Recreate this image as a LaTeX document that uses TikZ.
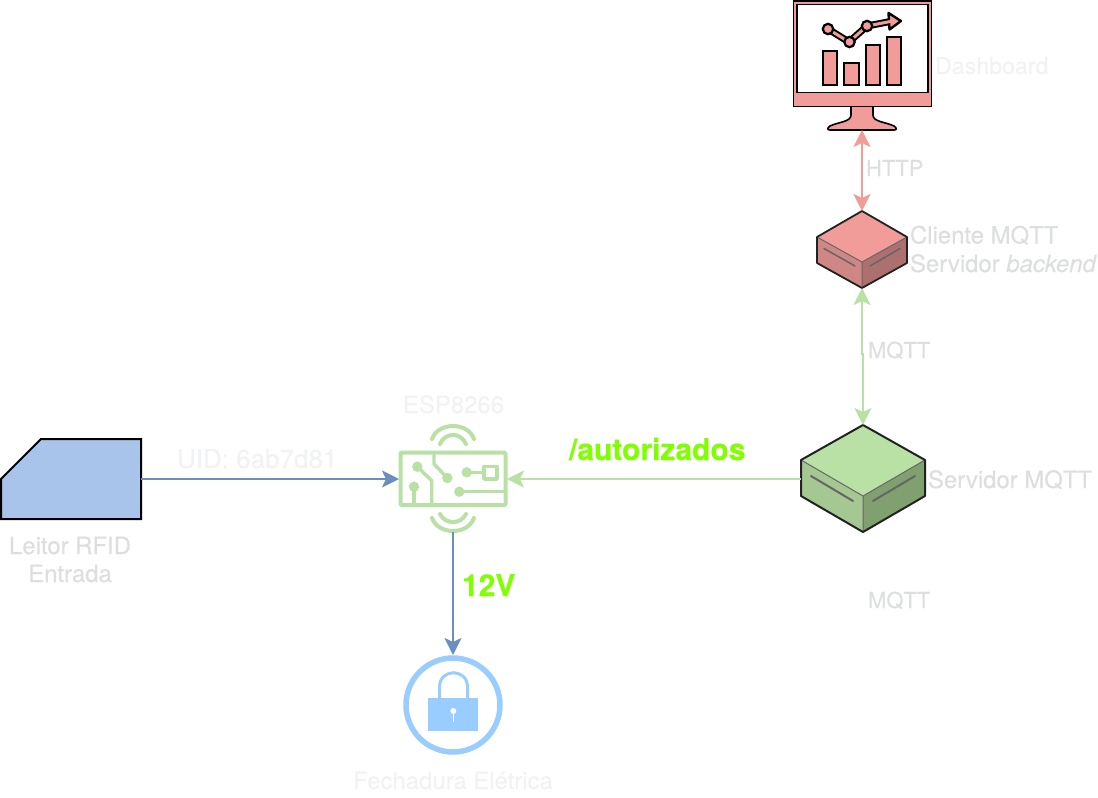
\documentclass[tikz,border=0pt]{standalone}
\usepackage{fontspec}
\setmainfont{TeX Gyre Heros}[FakeBold=0.25]
\usetikzlibrary{arrows.meta}
\definecolor{pinkf}{HTML}{F19C99}
\definecolor{pinkl}{HTML}{CE8785}
\definecolor{pinkr}{HTML}{AC706E}
\definecolor{greenf}{HTML}{B9E0A5}
\definecolor{greenl}{HTML}{A5C892}
\definecolor{greenr}{HTML}{80A06F}
\definecolor{bluef}{HTML}{A9C4EB}
\definecolor{bluel}{HTML}{6C8EBF}
\definecolor{lockc}{HTML}{99CCFF}
\definecolor{lime}{HTML}{80FF00}
\definecolor{greytxt}{HTML}{DDDFDF}
\definecolor{whitetxt}{HTML}{F1F2F4}
\definecolor{edge}{HTML}{222222}
\tikzset{
  anchorbox/.style={inner sep=0pt,outer sep=0pt,draw=none,minimum width=#1},
  lab/.style={anchor=base west,inner sep=0pt,outer sep=0pt,font=\fontsize{23.9}{28}\selectfont,text=greytxt},
  labw/.style={lab,text=whitetxt},
  labc/.style={lab,anchor=base},
  labcw/.style={labw,anchor=base},
  labb/.style={lab,text=lime,font=\fontsize{30}{34}\selectfont\bfseries},
  tipc/.tip={Stealth[length=17pt,width=17pt,inset=4pt]},
  conn/.style={line width=2pt,-tipc},
  dconn/.style={line width=2pt,tipc-tipc},
  iso/.style={draw=edge,line width=2pt,line join=round},
  slit/.style={draw=black!60,line cap=round},
  esp/.style={draw=greenf,line width=4pt,line cap=round,line join=round},
}
\begin{document}
\begin{tikzpicture}[x=1pt,y=-1pt]
\useasboundingbox (0,0) rectangle (1098,798);
% anchor nodes
\node[anchorbox=140pt,minimum height=80pt] (rfid) at (71,479) {};
\node[anchorbox=108pt,minimum height=106pt] (espn) at (453,479) {};
\node[anchorbox=100pt,minimum height=100pt] (lock) at (453,705) {};
\node[anchorbox=124pt,minimum height=107pt] (srv) at (863,478.5) {};
\node[anchorbox=90pt,minimum height=77pt] (cli) at (862,249.5) {};
\node[anchorbox=139pt,minimum height=130pt] (dash) at (862,65) {};
% RFID
\draw[black,fill=bluef,line width=2pt,line join=miter] (1,479)--(41,439)--(141,439)--(141,519)--(1,519)--cycle;
% Dashboard monitor
\fill[black] (792.5,0) rectangle (932,107);
\fill[pinkf] (794,1.5) rectangle (930.5,105.5);
\fill[black] (796,3.5) rectangle (928.5,93);
\fill[white] (797.5,5) rectangle (927,91.5);
\draw[black,fill=pinkf,line width=1.6pt,line join=round] (851,107) -- (851,115) .. controls (851,122) and (838,122) .. (830,126) .. controls (827,128) and (827,130) .. (830,130) -- (894,130) .. controls (897,130) and (897,128) .. (894,126) .. controls (886,122) and (873,122) .. (873,115) -- (873,107);
\foreach \xa/\xb/\yt in {822.5/837/50.5,844/858.5/63,865.5/880/45,887/901/37}
  \draw[black,fill=pinkf,line width=2pt] (\xa,\yt) rectangle (\xb,84.5);
\draw[black,line width=7pt,line join=round,line cap=round] (828,29)--(849,42)--(867,26)--(893,21);
\draw[black,fill=pinkf,line width=2.4pt,line join=round] (888.5,13)--(901,21)--(889.5,29.5)--cycle;
\draw[pinkf,line width=3pt,line join=round] (828,29)--(849,42)--(867,26)--(893,21);
\foreach \p in {(828,29),(849.5,42),(867,26)}
  \draw[black,fill=pinkf,line width=2.2pt] \p circle[radius=5.2pt];
% small server
\fill[pinkl] (817,237)--(862,262)--(862,288)--(817,263)--cycle;
\fill[pinkr] (907,237)--(862,262)--(862,288)--(907,263)--cycle;
\fill[pinkf] (862,211)--(907,237)--(862,262)--(817,237)--cycle;
\draw[black!60,line width=1pt] (817,237)--(862,262)--(907,237) (862,262)--(862,288);
\draw[slit,line width=1.5pt] (824,248.5)--(855,266) (870,266)--(900,248.5);
\draw[iso,line width=1.8pt] (862,211)--(907,237)--(907,263)--(862,288)--(817,263)--(817,237)--cycle;
% large server
\fill[greenl] (801,460)--(863,496)--(863,532)--(801,496)--cycle;
\fill[greenr] (925,460)--(863,496)--(863,532)--(925,496)--cycle;
\fill[greenf] (863,425)--(925,460)--(863,496)--(801,460)--cycle;
\draw[black!60,line width=1pt] (801,460)--(863,496)--(925,460) (863,496)--(863,532);
\draw[slit,line width=2pt] (811,476)--(853,501) (873,501)--(915,476);
\draw[iso] (863,425)--(925,460)--(925,496)--(863,532)--(801,496)--(801,460)--cycle;
% ESP icon
\draw[esp,rounded corners=1pt] (400.5,452.5) rectangle (505.5,505);
\draw[esp] (432,439) .. controls (438,421.7) and (468,421.7) .. (474,439);
\draw[esp] (440,444) .. controls (445,432) and (461,432) .. (466,444);
\draw[esp] (440,514) .. controls (445,524.7) and (461,524.7) .. (466,514);
\draw[esp] (432,518) .. controls (438,535.3) and (468,535.3) .. (474,518);
\draw[esp,line width=3.4pt] (417.3,466.7)--(431.7,480.7)--(431.7,505);
\draw[esp,line width=3.4pt] (414,486.7)--(414,505);
\draw[esp,line width=3.4pt] (447.3,478)--(434,464)--(434,453);
\draw[esp,line width=3.4pt] (466.7,472.3)--(483.3,472.3);
\draw[esp,line width=3.4pt] (459.3,491.7)--(505,491.7);
\draw[esp,line width=3.4pt,line cap=butt] (484,466.5) rectangle (497,479);
\foreach \p in {(417.3,466.7),(414,486.7),(447.3,478),(466.7,472.3),(459.3,491.7)}
  \fill[greenf] \p circle[radius=5.2pt];
% lock
\draw[lockc,line width=5.5pt] (453,705) circle[radius=47pt];
\fill[lockc] (428.3,698) rectangle (478.3,730.7);
\draw[lockc,line width=3pt] (439.5,698) -- (439.5,687) .. controls (439.5,668) and (467.5,668) .. (467.5,687) -- (467.5,698);
\fill[white] (453.3,711) circle[radius=3pt];
\draw[white,line width=1.5pt] (453.3,711)--(453.3,721.5);
% connectors
\draw[conn,bluel] (rfid.east) -- (espn.west);
\draw[conn,greenf] (srv.west) -- ++(-146,0) |- (espn.east);
\draw[conn,bluel] (espn.south) -- (lock.north);
\draw[dconn,pinkf] (dash.south -| cli.north) -- (cli.north);
\draw[dconn,greenf] (cli.south) -- ++(0,66) -| (srv.north);
% labels
\node[labc] (lleitor) at (70,554) {Leitor RFID};
\node[labc] (lentrada) at (70,582) {Entrada};
\node[labw,font=\fontsize{26}{30}\selectfont] (luid) at (177,468) {UID: 6ab7d81};
\node[labcw] (lesp) at (453.5,413) {ESP8266};
\node[labcw] (lfech) at (453,789) {Fechadura Elétrica};
\node[labw,font=\fontsize{23.2}{27}\selectfont] (ldash) at (935,74) {Dashboard};
\node[lab,font=\fontsize{22}{26}\selectfont] (lhttp) at (866,176) {HTTP};
\node[lab] (lcli) at (910,243.5) {Cliente MQTT};
\node[lab] (lback) at (910,272) {Servidor \textit{backend}};
\node[lab,font=\fontsize{22}{26}\selectfont] (lm1) at (868,358) {MQTT};
\node[lab] (lsrv) at (928,488) {Servidor MQTT};
\node[lab,font=\fontsize{22}{26}\selectfont] (lm2) at (868,608) {MQTT};
\node[labb] (laut) at (569,460) {/autorizados};
\node[labb] (l12) at (462,596) {12V};
\end{tikzpicture}
\end{document}
